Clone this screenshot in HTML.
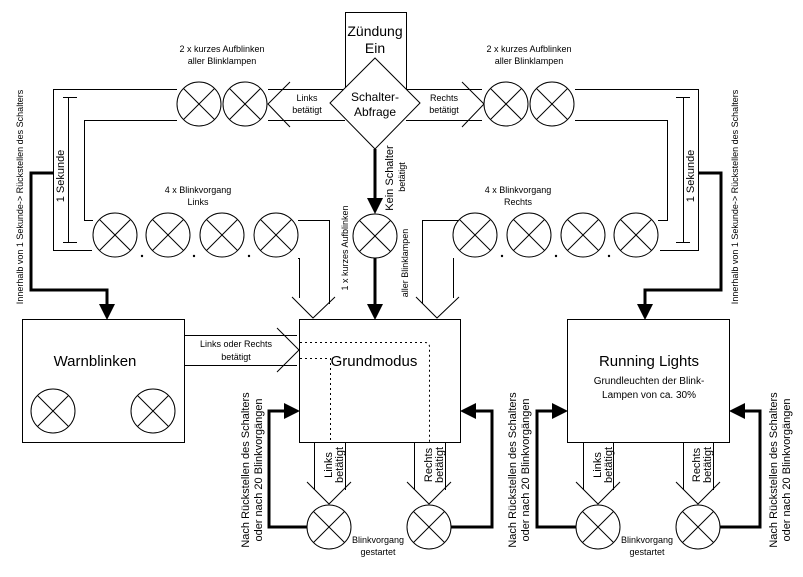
<!DOCTYPE html>
<html><head><meta charset="utf-8"><style>html,body{margin:0;padding:0;background:#fff}svg{display:block}text{font-family:"Liberation Sans",Arial,sans-serif;fill:#000}</style></head><body>
<svg width="803" height="577" viewBox="0 0 803 577" xmlns="http://www.w3.org/2000/svg">
<defs>
<g id="lamp"><circle r="22" fill="#fff" stroke="#000" stroke-width="1"/><line x1="-15.5" y1="-15.5" x2="15.5" y2="15.5" stroke="#000"/><line x1="-15.5" y1="15.5" x2="15.5" y2="-15.5" stroke="#000"/></g>
</defs>
<g fill="none" stroke="#000" stroke-width="1">
<polyline points="345.5,90 345.5,12.5 406.5,12.5 406.5,90"/>
<line x1="268" y1="89.5" x2="345" y2="89.5"/><line x1="268" y1="120.5" x2="345" y2="120.5"/>
<polyline points="290,82 268,104 290,127"/>
<line x1="406" y1="89.5" x2="482" y2="89.5"/><line x1="406" y1="120.5" x2="482" y2="120.5"/>
<polyline points="462,82 484,104 462,127"/>
<polyline points="177,89.5 53.5,89.5 53.5,250.5 92,250.5"/>
<polyline points="177,120.5 84.5,120.5 84.5,220.5 93,220.5"/>
<line x1="68.5" y1="97" x2="68.5" y2="243"/><line x1="63" y1="97.5" x2="77" y2="97.5"/><line x1="63" y1="242.5" x2="77" y2="242.5"/>
<polyline points="575,89.5 698.5,89.5 698.5,250.5 660,250.5"/>
<polyline points="575,120.5 667.5,120.5 667.5,220.5 658,220.5"/>
<line x1="683.5" y1="97" x2="683.5" y2="243"/><line x1="676" y1="97.5" x2="690" y2="97.5"/><line x1="676" y1="242.5" x2="690" y2="242.5"/>
<polyline points="298,220.5 329.5,220.5 329.5,304"/>
<polyline points="298,258.5 299.5,258.5 299.5,298"/>
<polyline points="292,297 313,318 335,297"/>
<polyline points="475,220.5 422.5,220.5 422.5,304" />
<polyline points="453,258.5 453.5,258.5 453.5,298"/>
<polyline points="416,297 437,318 459,297"/>
<rect x="22.5" y="319.5" width="162" height="123"/>
<rect x="299.5" y="319.5" width="161" height="123"/>
<rect x="567.5" y="319.5" width="162" height="123"/>
<line x1="184" y1="335.5" x2="297" y2="335.5"/><line x1="184" y1="365.5" x2="297" y2="365.5"/>
<polyline points="277,328 299,350 277,372"/>
<path d="M300 342.5 H425 Q429.5 342.5 429.5 347 V442" stroke-dasharray="2,3"/>
<path d="M300 358.5 H330.5 V442" stroke-dasharray="2,3"/>
<line x1="314.5" y1="442" x2="314.5" y2="490"/><line x1="345.5" y1="442" x2="345.5" y2="490"/><polyline points="307,482 329,504 351,482"/>
<line x1="414.5" y1="442" x2="414.5" y2="490"/><line x1="445.5" y1="442" x2="445.5" y2="490"/><polyline points="407,482 429,504 451,482"/>
<line x1="583.5" y1="442" x2="583.5" y2="490"/><line x1="613.5" y1="442" x2="613.5" y2="490"/><polyline points="576,482 598,504 620,482"/>
<line x1="683.5" y1="442" x2="683.5" y2="490"/><line x1="713.5" y1="442" x2="713.5" y2="490"/><polyline points="676,482 698,504 720,482"/>
</g>
<polygon points="375,58 420,103 375,149 330,103" fill="#fff" stroke="#000"/>
<g fill="none" stroke="#000" stroke-width="3">
<line x1="375" y1="149" x2="375" y2="200"/>
<line x1="375" y1="258" x2="375" y2="305"/>
<polyline points="53,173 31,173 31,290 107,290 107,305"/>
<polyline points="698,173 721,173 721,290 645,290 645,305"/>
<polyline points="307,527 269,527 269,411 285,411"/>
<polyline points="451,527 492,527 492,411 474,411"/>
<polyline points="576,527 537,527 537,411 553,411"/>
<polyline points="720,527 760,527 760,411 743,411"/>
</g>
<g fill="#000">
<polygon points="367,198 383,198 375,214"/>
<polygon points="367,304 383,304 375,320"/>
<polygon points="99,304 115,304 107,320"/>
<polygon points="637,304 653,304 645,320"/>
<polygon points="284,403 284,419 300,411"/>
<polygon points="476,403 476,419 460,411"/>
<polygon points="552,403 552,419 568,411"/>
<polygon points="745,403 745,419 729,411"/>
</g>
<use href="#lamp" x="199" y="104"/><use href="#lamp" x="245" y="104"/>
<use href="#lamp" x="506" y="104"/><use href="#lamp" x="552" y="104"/>
<use href="#lamp" x="115" y="235"/><use href="#lamp" x="168" y="235"/><use href="#lamp" x="222" y="235"/><use href="#lamp" x="276" y="235"/>
<use href="#lamp" x="475" y="235"/><use href="#lamp" x="529" y="235"/><use href="#lamp" x="583" y="235"/><use href="#lamp" x="636" y="235"/>
<use href="#lamp" x="375" y="236"/>
<use href="#lamp" x="53" y="411"/><use href="#lamp" x="153" y="411"/>
<use href="#lamp" x="329" y="527"/><use href="#lamp" x="429" y="527"/>
<use href="#lamp" x="598" y="527"/><use href="#lamp" x="698" y="527"/>
<g fill="#000"><circle cx="142" cy="256" r="1.2"/><circle cx="194" cy="256" r="1.2"/><circle cx="249" cy="256" r="1.2"/>
<circle cx="502" cy="256" r="1.2"/><circle cx="556" cy="256" r="1.2"/><circle cx="609" cy="256" r="1.2"/></g>
<g text-anchor="middle">
<text x="375" y="36" font-size="14">Zündung</text><text x="375" y="53" font-size="14">Ein</text>
<text x="375" y="101" font-size="12">Schalter-</text><text x="375" y="116" font-size="12">Abfrage</text>
<g font-size="9">
<text x="307" y="101">Links</text><text x="307" y="113">betätigt</text>
<text x="444" y="101">Rechts</text><text x="444" y="113">betätigt</text>
<text x="222" y="52">2 x kurzes Aufblinken</text><text x="222" y="64">aller Blinklampen</text>
<text x="529" y="52">2 x kurzes Aufblinken</text><text x="529" y="64">aller Blinklampen</text>
<text x="198" y="193">4 x Blinkvorgang</text><text x="198" y="205">Links</text>
<text x="518" y="193">4 x Blinkvorgang</text><text x="518" y="205">Rechts</text>
<text x="236" y="347">Links oder Rechts</text><text x="236" y="360">betätigt</text>
<text x="378" y="543">Blinkvorgang</text><text x="378" y="555">gestartet</text>
<text x="647" y="543">Blinkvorgang</text><text x="647" y="555">gestartet</text>
<text transform="translate(23,197) rotate(-90)">Innerhalb von 1 Sekunde-&gt; Rückstellen des Schalters</text>
<text transform="translate(738,197) rotate(-90)">Innerhalb von 1 Sekunde-&gt; Rückstellen des Schalters</text>
<text transform="translate(348,248) rotate(-90)">1 x kurzes Aufblinken</text>
<text transform="translate(408,263) rotate(-90)">aller Blinklampen</text>
<text transform="translate(405,177) rotate(-90)">betätigt</text>
</g>
<text transform="translate(393,178) rotate(-90)" font-size="11">Kein Schalter</text>
<text transform="translate(64,176) rotate(-90)" font-size="11">1 Sekunde</text>
<text transform="translate(694,176) rotate(-90)" font-size="11">1 Sekunde</text>
<text x="95" y="366" font-size="15">Warnblinken</text>
<text x="374" y="366" font-size="15">Grundmodus</text>
<text x="649" y="366" font-size="15">Running Lights</text>
<text x="649" y="384" font-size="10">Grundleuchten der Blink-</text>
<text x="649" y="398" font-size="10">Lampen von ca. 30%</text>
<g font-size="11">
<text transform="translate(332,465) rotate(-90)">Links</text><text transform="translate(343,465) rotate(-90)">betätigt</text>
<text transform="translate(432,465) rotate(-90)">Rechts</text><text transform="translate(443,465) rotate(-90)">betätigt</text>
<text transform="translate(601,465) rotate(-90)">Links</text><text transform="translate(612,465) rotate(-90)">betätigt</text>
<text transform="translate(700,465) rotate(-90)">Rechts</text><text transform="translate(711,465) rotate(-90)">betätigt</text>
<text transform="translate(249,470) rotate(-90)">Nach Rückstellen des Schalters</text>
<text transform="translate(262,470) rotate(-90)">oder nach 20 Blinkvorgängen</text>
<text transform="translate(516,470) rotate(-90)">Nach Rückstellen des Schalters</text>
<text transform="translate(529,470) rotate(-90)">oder nach 20 Blinkvorgängen</text>
<text transform="translate(777,470) rotate(-90)">Nach Rückstellen des Schalters</text>
<text transform="translate(790,470) rotate(-90)">oder nach 20 Blinkvorgängen</text>
</g>
</g>
</svg>
</body></html>
